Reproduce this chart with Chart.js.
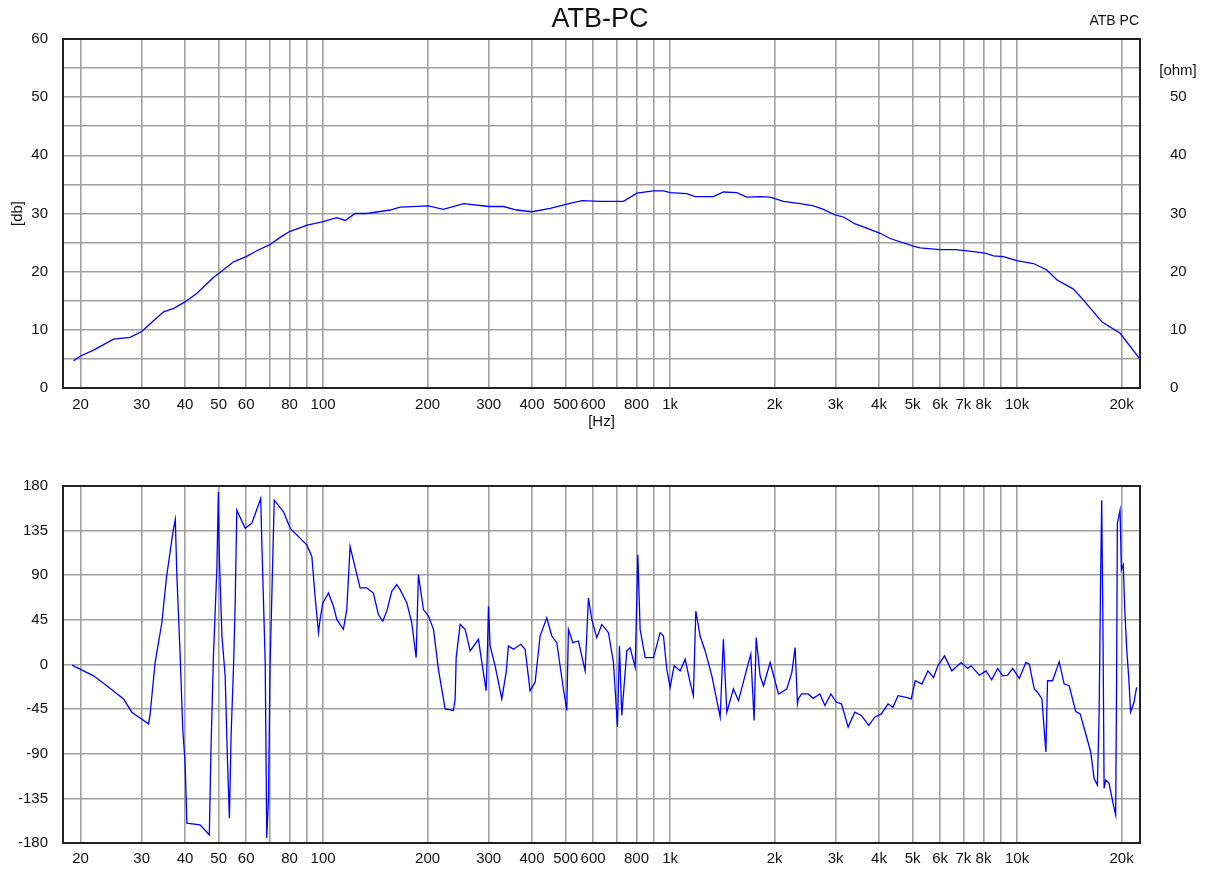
<!DOCTYPE html>
<html>
<head>
<meta charset="utf-8">
<title>ATB-PC</title>
<script src="https://cdn.jsdelivr.net/npm/chart.js@4.4.1/dist/chart.umd.min.js"></script>
<style>
    html, body {
        margin: 0;
        padding: 0;
        background: #fff;
    }
    .panel {
        position: absolute;
        left: 0;
    }
    #magPanel { top: 0; }
    #phasePanel { top: 440px; }
</style>
</head>
<body>
<div class="panel" id="magPanel"><canvas id="magChart" width="1207" height="440"></canvas></div>
<div class="panel" id="phasePanel"><canvas id="phaseChart" width="1207" height="430"></canvas></div>

<script>
// Frequency grid (vertical lines) and which of them get a label
const gridFreqs = [20, 30, 40, 50, 60, 70, 80, 90,
    100, 200, 300, 400, 500, 600, 700, 800, 900,
    1000, 2000, 3000, 4000, 5000, 6000, 7000, 8000, 9000,
    10000, 20000];
const labelFreqs = [20, 30, 40, 50, 60, 80, 100, 200, 300, 400, 500, 600, 800,
    1000, 2000, 3000, 4000, 5000, 6000, 7000, 8000, 10000, 20000];
const labelTexts = ['20', '30', '40', '50', '60', '80', '100', '200', '300', '400', '500', '600', '800',
    '1k', '2k', '3k', '4k', '5k', '6k', '7k', '8k', '10k', '20k'];

// Magnitude response [Hz] / [db]
const magFreq = [19.1, 20, 21.8, 24.9, 27.8, 30, 31.4, 34.7, 37.1, 40,
    43.3, 48.3, 50, 55.2, 60, 64.4, 70, 75.2, 80, 90,
    100, 109.5, 115.8, 123.7, 133.6, 156, 166.7, 201, 222, 254,
    300, 331, 361, 400, 451, 504, 557, 629, 734, 802,
    895, 957, 1000, 1117, 1180, 1333, 1425, 1556, 1663, 1817,
    1941, 2121, 2369, 2588, 2766, 3000, 3159, 3413, 3688, 4027,
    4305, 5024, 5254, 5998, 6627, 7080, 8086, 8551, 9133, 9979,
    11143, 12176, 13010, 14533, 15531, 16594, 17538, 19810, 22510];
const magDb = [4.7, 5.5, 6.5, 8.4, 8.7, 9.7, 10.8, 13.1, 13.7, 14.8,
    16.3, 19.0, 19.7, 21.7, 22.6, 23.6, 24.6, 25.9, 26.9, 28.0,
    28.6, 29.3, 28.8, 30.0, 30.0, 30.6, 31.1, 31.3, 30.7, 31.7,
    31.2, 31.2, 30.6, 30.3, 30.9, 31.6, 32.2, 32.1, 32.1, 33.5,
    33.9, 33.9, 33.6, 33.4, 32.9, 32.9, 33.7, 33.6, 32.8, 32.9,
    32.8, 32.1, 31.7, 31.3, 30.7, 29.7, 29.4, 28.2, 27.5, 26.6,
    25.7, 24.4, 24.1, 23.8, 23.8, 23.6, 23.2, 22.7, 22.6, 21.9,
    21.4, 20.3, 18.6, 17.0, 15.1, 13.1, 11.4, 9.4, 5.1];

// Phase response [Hz] / [deg]
const phaseFreq = [18.9, 21.8, 23.8, 26.6, 28.1, 31.4, 31.7, 32.8, 34.3, 35.4,
    37.0, 37.5, 37.9, 38.7, 39.4, 40.0, 40.5, 44.2, 47.0, 47.5,
    48.3, 49.4, 49.9, 50.2, 51.1, 52.2, 53.0, 53.7, 54.3, 55.2,
    55.8, 56.4, 59.6, 62.3, 66.1, 66.6, 68.1, 68.8, 69.6, 70.3,
    71.1, 72.3, 76.9, 80.4, 89.7, 92.8, 94.8, 97.0, 98.0, 99.8,
    103.6, 107.1, 109.5, 114.4, 117, 119.6, 127.8, 133.6, 139.6, 144.3,
    148.6, 152.6, 157.7, 163.0, 166.7, 174.3, 180.1, 185.4, 188.2, 194.6,
    201.2, 208, 214.9, 224.7, 237.5, 240.2, 241.8, 248.3, 256.6, 265.3,
    280.3, 288.6, 295, 297.6, 299.6, 302.9, 313.1, 327.3, 336.9, 342,
    353.6, 371.3, 382.1, 394.9, 408.3, 422, 441.1, 456, 471.4, 492.6,
    503.7, 509.3, 524.2, 544.3, 568.9, 581.6, 594.6, 614.7, 635.4, 664.2,
    686.6, 705.1, 714.5, 725.7, 750.2, 767, 793, 807.2, 819.6, 847.2,
    895.3, 936, 956.8, 978.2, 1000, 1027, 1069, 1105, 1142, 1167,
    1186, 1220, 1262, 1319, 1394, 1424, 1457, 1522, 1574, 1663,
    1708, 1746, 1770, 1817, 1858, 1942, 2052, 2169, 2243, 2292,
    2328, 2341, 2392, 2500, 2585, 2701, 2793, 2906, 3016, 3117,
    3258, 3406, 3557, 3736, 3888, 4062, 4246, 4387, 4536, 4792,
    4953, 5086, 5317, 5532, 5744, 5910, 6177, 6484, 6896, 7207,
    7366, 7787, 8135, 8447, 8790, 9085, 9391, 9707, 10146, 10600,
    10840, 11205, 11454, 11786, 12103, 12236, 12647, 13220, 13664, 14125,
    14757, 15192, 15765, 16296, 16666, 17034, 17227, 17410, 17527, 17690,
    17808, 17998, 18405, 18938, 19229, 19358, 19447, 19799, 19969, 20230,
    20410, 20682, 21013, 21234, 21719, 22097];
const phaseDeg = [-0.7, -11.4, -21.4, -34.7, -48.1, -59.8, -51.4, 2, 42.1, 88.8,
    135.6, 146.3, 88.8, 12, -64.8, -98.2, -160, -161.7, -171.7, -88.2,
    8.7, 95.5, 174, 112.2, 28.7, -11.4, -94.9, -155, -71.5, -1.3,
    62.1, 155.6, 137.3, 142.3, 167.3, 122.2, 2, -175, -134.9, -4.7,
    63.8, 165.7, 154, 137.3, 120.6, 108.9, 68.8, 32.1, 45.4, 62.1,
    72.1, 58.8, 45.4, 35.4, 55.4, 118.9, 77.2, 77.2, 72.1, 50.4,
    43.8, 53.8, 73.8, 80.5, 75.5, 62.1, 42.1, 7, 90.5, 55.4,
    48.8, 35.4, -4.7, -44.8, -46.4, -34.7, 7, 40.4, 35.4, 13.7,
    25.4, -4.7, -26.4, 15.4, 58.8, 18.7, -1.3, -34.7, -8, 18.7,
    15.4, 20.4, 15.4, -26.4, -18, 28.7, 47.1, 28.7, 22, -24.7,
    -46.4, 35.4, 22, 23.7, -6.4, 67.1, 45.4, 27.1, 40.4, 32.1,
    2, -63.1, 18.7, -51.4, 13.7, 17, -3, 110.6, 35.4, 7,
    7, 32.1, 28.7, -4.7, -23, -1.3, -6.4, 5.3, -18, -31.4,
    53.8, 28.7, 13.7, -11.4, -53.1, 25.4, -48.1, -24.7, -36.4, -4.7,
    10.4, -56.4, 27.1, -11.4, -21.4, 2, -29.7, -24.7, -8, 17,
    -39.7, -34.7, -29.7, -29.7, -34.1, -29.7, -41.4, -29.7, -38.1, -39.7,
    -63.1, -48.1, -51.4, -61.5, -53.1, -49.8, -39.7, -43.1, -31.4, -33.1,
    -34.7, -16.4, -19.7, -6.4, -13, -1.3, 8.7, -6.4, 2, -4,
    -1.3, -10.7, -6.4, -15.4, -4, -11.4, -10.7, -4, -14, 2,
    0.3, -24.7, -28, -34.7, -88.2, -16.4, -16.4, 2.7, -19.7, -21.4,
    -47.4, -49.8, -69.8, -88.2, -114.9, -121.6, -51.4, 92.2, 165.7, 22,
    -124.9, -116.6, -119.9, -141.6, -151.6, -4.7, 142.3, 155.6, 95.5, 100.5,
    58.8, 17, -18, -48.1, -38.1, -23];

const FREQ_MIN = 17.8;
const FREQ_MAX = 22600;

const FONT = '"Liberation Sans", Arial, sans-serif';
const GRID_COLOR = '#a0a0a0';
const TEXT_COLOR = '#111';
const CURVE_COLOR = '#0000ff';

Chart.defaults.font.family = FONT;
Chart.defaults.font.size = 15;
Chart.defaults.color = TEXT_COLOR;

/**
 * Dark frame round the plot area (all four sides)
 */
const framePlugin = {
    id: 'frame',
    afterDraw(chart) {
        const { ctx, chartArea } = chart;
        ctx.save();
        ctx.strokeStyle = '#222';
        ctx.lineWidth = 2;
        ctx.strokeRect(chartArea.left, chartArea.top,
            chartArea.right - chartArea.left, chartArea.bottom - chartArea.top);
        ctx.restore();
    }
};

/**
 * Title texts of the upper panel
 */
const captionPlugin = {
    id: 'captions',
    afterDraw(chart) {
        if (chart.canvas.id !== 'magChart') return;
        const ctx = chart.ctx;
        ctx.save();
        ctx.fillStyle = TEXT_COLOR;
        ctx.textBaseline = 'middle';

        ctx.font = '27px ' + FONT;
        ctx.textAlign = 'center';
        ctx.fillText('ATB-PC', 600, 20);

        ctx.font = '14px ' + FONT;
        ctx.textAlign = 'right';
        ctx.fillText('ATB PC', 1139, 21);

        ctx.font = '15px ' + FONT;
        ctx.textAlign = 'center';
        ctx.fillText('[ohm]', 1178, 71);
        ctx.restore();
    }
};

/**
 * Shared logarithmic frequency axis
 */
function freqAxis(height, padding, withTitle) {
    return {
        type: 'logarithmic',
        min: FREQ_MIN,
        max: FREQ_MAX,
        afterBuildTicks: (axis) => {
            axis.ticks = gridFreqs.map(v => ({ value: v }));
        },
        afterFit: (axis) => {
            axis.height = height;
        },
        ticks: {
            autoSkip: false,
            maxRotation: 0,
            padding: padding,
            callback: function(value) {
                const i = labelFreqs.indexOf(value);
                return i >= 0 ? labelTexts[i] : '';
            }
        },
        grid: {
            color: GRID_COLOR,
            lineWidth: 1.6,
            drawTicks: false
        },
        border: { display: false },
        title: {
            display: withTitle,
            text: '[Hz]',
            padding: { top: 0, bottom: 9 }
        }
    };
}

function loadMagChart() {
    const ctx = document.getElementById('magChart');
    const points = magFreq.map((f, i) => ({ x: f, y: magDb[i] }));

    new Chart(ctx, {
        type: 'line',
        data: {
            datasets: [{
                label: 'ATB PC',
                data: points,
                borderColor: CURVE_COLOR,
                borderWidth: 1.3,
                pointRadius: 0,
                tension: 0,
                yAxisID: 'y'
            }]
        },
        options: {
            responsive: false,
            animation: false,
            layout: { padding: { top: 39, left: 0, right: 0, bottom: 0 } },
            plugins: {
                legend: { display: false },
                tooltip: { enabled: false }
            },
            scales: {
                x: freqAxis(52, 8, true),
                y: {
                    position: 'left',
                    min: 0,
                    max: 60,
                    afterFit: (axis) => { axis.width = 63; },
                    ticks: {
                        stepSize: 5,
                        padding: 15,
                        callback: (v) => (v % 10 === 0 ? v : '')
                    },
                    grid: { color: GRID_COLOR, lineWidth: 1.6, drawTicks: false },
                    border: { display: false },
                    title: { display: true, text: '[db]', padding: { top: 9, bottom: 0 } }
                },
                y1: {
                    position: 'right',
                    min: 0,
                    max: 60,
                    afterFit: (axis) => { axis.width = 67; },
                    ticks: {
                        stepSize: 10,
                        padding: 30,
                        callback: (v) => (v === 60 ? '' : v)
                    },
                    grid: { display: false, drawTicks: false },
                    border: { display: false }
                }
            }
        },
        plugins: [framePlugin, captionPlugin]
    });
}

function loadPhaseChart() {
    const ctx = document.getElementById('phaseChart');
    const points = phaseFreq.map((f, i) => ({ x: f, y: phaseDeg[i] }));

    new Chart(ctx, {
        type: 'line',
        data: {
            datasets: [{
                label: 'Phase',
                data: points,
                borderColor: CURVE_COLOR,
                borderWidth: 1.3,
                pointRadius: 0,
                tension: 0
            }]
        },
        options: {
            responsive: false,
            animation: false,
            layout: { padding: { top: 46, left: 0, right: 67, bottom: 0 } },
            plugins: {
                legend: { display: false },
                tooltip: { enabled: false }
            },
            scales: {
                x: freqAxis(27, 7, false),
                y: {
                    min: -180,
                    max: 180,
                    afterFit: (axis) => { axis.width = 63; },
                    ticks: { stepSize: 45, padding: 15 },
                    grid: { color: GRID_COLOR, lineWidth: 1.6, drawTicks: false },
                    border: { display: false }
                }
            }
        },
        plugins: [framePlugin]
    });
}

loadMagChart();
loadPhaseChart();
</script>
</body>
</html>
